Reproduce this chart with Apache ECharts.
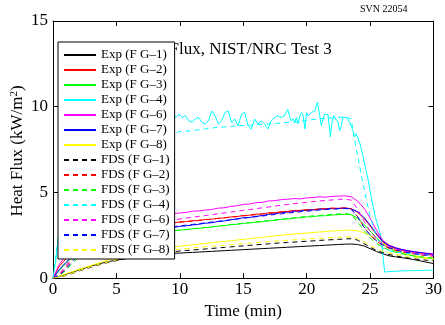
<!DOCTYPE html>
<html><head><meta charset="utf-8">
<script src="https://cdn.jsdelivr.net/npm/echarts@6/dist/echarts.min.js"></script>
<style>html,body{margin:0;padding:0;background:#fff}#c{width:445px;height:325px}</style>
</head><body><div id="c"></div>
<script>
// time axis (min), 0.5 min step
const t05 = [0,0.5,1,1.5,2,2.5,3,3.5,4,4.5,5,5.5,6,6.5,7,7.5,8,8.5,9,9.5,10,10.5,11,11.5,12,12.5,13,13.5,14,14.5,15,15.5,16,16.5,17,17.5,18,18.5,19,19.5,20,20.5,21,21.5,22,22.5,23,23.5,24,24.5,25,25.5,26,26.5,27,27.5,28,28.5,29,29.5,30];

const expFG1 = [0,0.1,0.22,0.34,0.46,0.58,0.7,0.8,0.9,0.98,1.05,1.11,1.17,1.22,1.27,1.31,1.35,1.38,1.41,1.44,1.46,1.48,1.5,1.52,1.54,1.56,1.58,1.6,1.62,1.64,1.66,1.68,1.7,1.72,1.74,1.76,1.78,1.8,1.82,1.84,1.86,1.88,1.9,1.92,1.94,1.96,1.98,1.99,1.96,1.88,1.72,1.55,1.42,1.3,1.24,1.19,1.14,1.07,1.0,0.92,0.85];
const expFG2 = [0,0.7,1.1,1.45,1.75,2.0,2.2,2.38,2.52,2.64,2.74,2.82,2.9,2.96,3.02,3.07,3.12,3.16,3.2,3.22,3.28,3.29,3.35,3.36,3.42,3.43,3.49,3.51,3.57,3.59,3.65,3.67,3.73,3.74,3.81,3.82,3.88,3.89,3.95,3.95,4.0,3.99,4.05,4.04,4.09,4.07,4.1,4.05,3.85,3.5,3.05,2.55,2.1,1.85,1.72,1.63,1.56,1.5,1.45,1.4,1.36];
const expFG3 = [0,0.45,0.85,1.2,1.48,1.7,1.88,2.02,2.14,2.24,2.33,2.41,2.48,2.54,2.59,2.63,2.67,2.7,2.73,2.76,2.8,2.83,2.88,2.9,2.95,2.98,3.03,3.06,3.11,3.14,3.19,3.22,3.26,3.29,3.34,3.37,3.42,3.45,3.5,3.52,3.57,3.59,3.63,3.64,3.68,3.7,3.72,3.7,3.5,3.15,2.75,2.35,2.0,1.75,1.58,1.45,1.36,1.28,1.22,1.17,1.13];
const expFG6 = [0,0.8,1.3,1.7,2.05,2.35,2.6,2.8,2.97,3.12,3.24,3.35,3.44,3.52,3.58,3.63,3.67,3.7,3.72,3.76,3.8,3.83,3.9,3.92,3.97,4.0,4.08,4.1,4.18,4.22,4.3,4.32,4.4,4.42,4.5,4.52,4.58,4.6,4.64,4.62,4.68,4.7,4.74,4.72,4.77,4.78,4.8,4.75,4.5,4.1,3.5,2.8,2.2,1.92,1.78,1.68,1.6,1.54,1.49,1.45,1.42];
const expFG7 = [0,0.5,0.9,1.25,1.55,1.8,2.0,2.15,2.28,2.4,2.5,2.58,2.65,2.72,2.78,2.83,2.87,2.9,2.93,2.96,3.02,3.05,3.1,3.14,3.2,3.23,3.3,3.33,3.4,3.45,3.52,3.54,3.6,3.65,3.72,3.75,3.82,3.85,3.9,3.92,3.96,3.98,4.02,4.03,4.06,4.06,4.08,4.04,3.88,3.55,3.1,2.6,2.15,1.9,1.76,1.66,1.59,1.53,1.48,1.43,1.39];
const expFG8 = [0,0.12,0.25,0.37,0.5,0.62,0.74,0.86,0.98,1.1,1.2,1.28,1.36,1.44,1.52,1.58,1.64,1.7,1.76,1.82,1.86,1.9,1.94,1.98,2.02,2.06,2.1,2.14,2.18,2.22,2.26,2.3,2.34,2.38,2.42,2.46,2.5,2.54,2.57,2.6,2.63,2.66,2.69,2.72,2.75,2.77,2.79,2.8,2.76,2.65,2.48,2.28,2.02,1.8,1.62,1.49,1.39,1.31,1.24,1.18,1.12];

// Exp F G-4 (noisy) has its own time base
const tFG4 = [0,0.25,0.5,0.75,1,1.25,1.5,1.75,2,2.25,2.5,2.75,3,3.25,3.5,3.75,4,4.25,4.5,4.75,5,5.25,5.5,5.75,6,6.25,6.5,6.75,7,7.25,7.5,7.75,8,8.25,8.5,8.75,9,9.2,
  9.4,9.66,9.92,10.18,10.44,10.7,10.96,11.22,11.48,11.74,12.0,12.26,12.52,12.78,13.04,13.3,13.56,13.82,14.08,14.34,14.6,14.86,15.12,15.38,15.64,15.9,16.16,16.42,16.68,16.94,17.2,17.46,17.72,17.98,18.24,18.5,
  18.76,18.94,19.07,19.2,19.33,19.46,19.59,19.72,19.86,19.99,20.12,20.25,20.38,20.51,20.64,20.85,21.03,21.16,21.29,21.42,21.55,21.68,21.87,22.0,22.13,22.26,22.47,22.6,22.73,22.86,22.99,23.12,23.25,23.38,23.51,23.64,23.77,23.9,24.03,24.16,24.29,24.5,24.82,25.1,25.4,25.84,26.0,26.15,26.5,27,27.5,28,28.5,29,29.5,30];
const expFG4 = [0,1.2,2.8,4.6,6.0,7.2,8.0,8.5,8.8,9.0,9.2,9.35,9.1,9.45,9.2,9.55,9.15,9.35,9.6,9.25,9.45,9.05,9.35,9.55,9.2,9.45,9.1,9.6,9.3,9.05,9.45,9.2,9.55,9.3,9.1,9.45,9.6,9.5,
  9.85,9.37,9.56,9.37,9.47,9.18,9.09,9.28,9.37,9.09,8.99,9.18,9.75,9.47,8.99,9.18,9.66,9.75,9.09,9.28,8.89,9.56,9.66,8.89,8.7,9.28,8.99,9.18,8.99,8.7,9.18,9.37,9.47,9.37,9.47,9.85,
  9.18,9.28,9.09,9.37,8.99,9.47,9.66,9.47,8.7,9.66,9.47,9.37,9.66,9.56,9.75,10.27,9.47,8.89,9.28,9.56,9.47,9.56,8.23,9.09,9.47,9.56,9.09,8.6,8.89,9.37,9.47,9.37,9.47,9.09,8.89,8.6,8.23,8.42,8.32,7.94,7.6,6.9,5.84,4.7,3.6,2.5,1.4,0.35,0.38,0.4,0.42,0.43,0.44,0.45,0.46,0.47];

const fdsFG1 = [0,0.05,0.15,0.27,0.4,0.52,0.64,0.75,0.85,0.94,1.02,1.1,1.17,1.24,1.3,1.36,1.41,1.46,1.5,1.54,1.58,1.61,1.64,1.67,1.7,1.73,1.76,1.79,1.82,1.85,1.88,1.91,1.94,1.97,2.0,2.03,2.06,2.08,2.1,2.13,2.15,2.17,2.2,2.22,2.24,2.26,2.28,2.3,2.22,2.02,1.8,1.62,1.48,1.38,1.3,1.23,1.17,1.12,1.08,1.04,1.01];
const fdsFG2 = [0,0.2,0.6,1.1,1.5,1.85,2.1,2.3,2.47,2.6,2.71,2.8,2.88,2.95,3.01,3.06,3.1,3.14,3.18,3.22,3.26,3.3,3.33,3.37,3.4,3.44,3.48,3.52,3.55,3.59,3.63,3.66,3.7,3.74,3.77,3.81,3.84,3.87,3.9,3.93,3.96,3.98,4.01,4.03,4.05,4.07,4.08,4.05,3.6,3.0,2.5,2.15,1.9,1.74,1.62,1.53,1.46,1.4,1.35,1.31,1.28];
const fdsFG3 = [0,0.15,0.45,0.85,1.2,1.5,1.73,1.9,2.04,2.16,2.26,2.35,2.43,2.5,2.56,2.61,2.65,2.69,2.72,2.76,2.8,2.84,2.88,2.92,2.96,3.0,3.04,3.08,3.12,3.16,3.2,3.24,3.28,3.32,3.36,3.4,3.44,3.48,3.52,3.56,3.6,3.63,3.66,3.69,3.72,3.75,3.77,3.72,3.3,2.8,2.35,2.02,1.8,1.63,1.51,1.42,1.35,1.29,1.24,1.2,1.17];
const fdsFG4 = [0,3.0,5.5,6.8,7.5,7.8,8.0,8.1,8.2,8.28,8.35,8.4,8.45,8.48,8.5,8.52,8.55,8.52,8.5,8.45,8.55,8.58,8.6,8.65,8.7,8.75,8.8,8.82,8.85,8.88,8.9,8.92,8.95,8.98,9.0,9.02,9.05,9.08,9.1,9.15,9.2,9.25,9.3,9.32,9.35,9.38,9.4,9.3,7.2,5.3,3.6,2.4,1.75,1.6,1.52,1.47,1.43,1.4,1.38,1.36,1.35];
const fdsFG6 = [0,0.25,0.7,1.2,1.65,2.0,2.3,2.5,2.67,2.8,2.91,3.0,3.08,3.15,3.2,3.25,3.29,3.33,3.36,3.4,3.45,3.5,3.55,3.6,3.65,3.7,3.75,3.8,3.85,3.9,3.95,4.0,4.05,4.1,4.15,4.2,4.25,4.3,4.34,4.38,4.42,4.46,4.5,4.53,4.56,4.59,4.61,4.55,4.05,3.35,2.75,2.3,2.0,1.82,1.69,1.6,1.53,1.47,1.42,1.38,1.35];
const fdsFG7 = [0,0.15,0.5,0.95,1.35,1.65,1.9,2.1,2.25,2.38,2.48,2.57,2.65,2.72,2.78,2.83,2.88,2.92,2.96,3.0,3.05,3.09,3.13,3.18,3.22,3.27,3.31,3.36,3.4,3.45,3.49,3.54,3.58,3.62,3.67,3.71,3.75,3.79,3.83,3.87,3.9,3.94,3.97,4.0,4.02,4.04,4.06,4.03,3.6,3.0,2.52,2.18,1.93,1.77,1.65,1.56,1.49,1.43,1.38,1.34,1.31];
const fdsFG8 = [0,0.05,0.16,0.29,0.42,0.55,0.67,0.78,0.88,0.97,1.06,1.14,1.22,1.29,1.36,1.42,1.48,1.54,1.6,1.65,1.69,1.72,1.76,1.79,1.83,1.86,1.89,1.92,1.95,1.98,2.01,2.04,2.07,2.1,2.13,2.16,2.19,2.21,2.23,2.26,2.28,2.3,2.32,2.34,2.36,2.38,2.4,2.41,2.32,2.12,1.9,1.72,1.58,1.47,1.39,1.32,1.26,1.21,1.17,1.13,1.1];

const xTicks = [0,5,10,15,20,25,30];
const yTicks = [0,5,10,15];

const SERIF = 'Liberation Serif';
const defs = [
  ['Exp (F G\u20131)', t05, expFG1, '#000000', 'solid'],
  ['Exp (F G\u20132)', t05, expFG2, '#ff0000', 'solid'],
  ['Exp (F G\u20133)', t05, expFG3, '#00ff00', 'solid'],
  ['Exp (F G\u20134)', tFG4, expFG4, '#00ffff', 'solid'],
  ['Exp (F G\u20136)', t05, expFG6, '#ff00ff', 'solid'],
  ['Exp (F G\u20137)', t05, expFG7, '#0000ff', 'solid'],
  ['Exp (F G\u20138)', t05, expFG8, '#ffff00', 'solid'],
  ['FDS (F G\u20131)', t05, fdsFG1, '#000000', [5,4]],
  ['FDS (F G\u20132)', t05, fdsFG2, '#ff0000', [5,4]],
  ['FDS (F G\u20133)', t05, fdsFG3, '#00ff00', [5,4]],
  ['FDS (F G\u20134)', t05, fdsFG4, '#00ffff', [5,4]],
  ['FDS (F G\u20136)', t05, fdsFG6, '#ff00ff', [5,4]],
  ['FDS (F G\u20137)', t05, fdsFG7, '#0000ff', [5,4]],
  ['FDS (F G\u20138)', t05, fdsFG8, '#ffff00', [5,4]]
];

const series = defs.map(d => ({
  name: d[0], type: 'line', xAxisIndex: 0, yAxisIndex: 0,
  data: d[1].map((t, i) => [t, d[2][i]]),
  symbol: 'none', showSymbol: false, animation: false,
  lineStyle: { color: d[3], width: 1, type: d[4] },
  itemStyle: { color: d[3] }
}));

const axisCommon = {
  axisLine: { show: true, onZero: false, lineStyle: { color: '#000', width: 1 } },
  axisTick: { show: true, inside: true, length: 5, lineStyle: { color: '#000' } },
  splitLine: { show: false }
};

const chart = echarts.init(document.getElementById('c'), null, { renderer: 'canvas' });
chart.setOption({
  animation: false,
  backgroundColor: '#fff',
  grid: { left: 53, right: 9, top: 21, bottom: 43, containLabel: false },
  title: {
    text: 'Surface Heat Flux, NIST/NRC Test 3', left: 72, top: 36, z: 1,
    textStyle: { fontFamily: SERIF, fontSize: 17, fontWeight: 'normal', color: '#000' }
  },
  legend: {
    orient: 'vertical', left: 58, top: 42, z: 10,
    padding: [6, 5, 2, 5], itemGap: 1, itemWidth: 32, itemHeight: 2,
    itemStyle: { opacity: 0 },
    backgroundColor: '#fff', borderColor: '#000', borderWidth: 1,
    textStyle: { fontFamily: SERIF, fontSize: 13, lineHeight: 14, color: '#000' },
    data: defs.map(d => d[0])
  },
  xAxis: [
    Object.assign({ type: 'value', position: 'bottom', min: xTicks[0], max: xTicks[xTicks.length-1], interval: 5,
      name: 'Time (min)', nameLocation: 'middle', nameGap: 21,
      nameTextStyle: { fontFamily: SERIF, fontSize: 17, color: '#000' },
      axisLabel: { fontFamily: SERIF, fontSize: 17, color: '#000', margin: 3 } }, axisCommon),
    Object.assign({ type: 'value', position: 'top', min: xTicks[0], max: xTicks[xTicks.length-1], interval: 5,
      axisLabel: { show: false } }, axisCommon)
  ],
  yAxis: [
    Object.assign({ type: 'value', position: 'left', min: yTicks[0], max: yTicks[yTicks.length-1], interval: 5,
      axisLabel: { fontFamily: SERIF, fontSize: 17, color: '#000', margin: 5 } }, axisCommon),
    Object.assign({ type: 'value', position: 'right', min: yTicks[0], max: yTicks[yTicks.length-1], interval: 5,
      axisLabel: { show: false } }, axisCommon)
  ],
  graphic: [
    { type: 'text', left: 360, top: 4, style: { text: 'SVN 22054', font: '10px "Liberation Serif"', fill: '#000' } },
    { type: 'text', x: 18, y: 151, rotation: Math.PI / 2,
      style: { text: '{n|Heat Flux (kW/m}{s|2}{n|)}', align: 'center', verticalAlign: 'middle',
        rich: { n: { fontFamily: SERIF, fontSize: 17, fill: '#000', color: '#000' },
                s: { fontFamily: SERIF, fontSize: 11, verticalAlign: 'top', fill: '#000', color: '#000', padding: [0,0,7,0] } } } }
  ],
  series: series
});
</script></body></html>
